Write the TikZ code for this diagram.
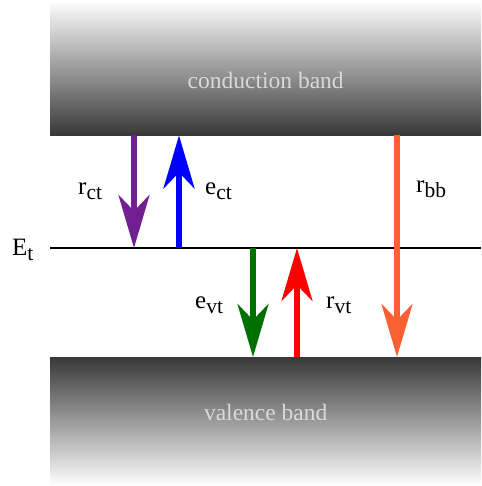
\documentclass[tikz,border=0pt]{standalone}
\usepackage{fontspec}
\setmainfont{Liberation Serif}
\usetikzlibrary{arrows.meta,positioning}

\definecolor{rctcol}{RGB}{112,32,144}
\definecolor{evtcol}{RGB}{0,112,0}
\definecolor{rbbcol}{RGB}{250,96,50}
\newcommand{\ratelbl}[2]{#1\raisebox{-5pt}{\fontsize{21.5}{21.5}\selectfont #2}}

\begin{document}
\begin{tikzpicture}[x=1pt,y=1pt,
  band/.style={inner sep=0,minimum width=431pt,anchor=north west},
  bandtext/.style={text=black!15,font=\fontsize{23.5}{23.5}\selectfont},
  rate/.style={line width=6pt,-{Stealth[length=53pt,width=31pt,inset=16pt]}},
  lbl/.style={inner sep=0,anchor=base west,font=\fontsize{25}{25}\selectfont}]
\useasboundingbox (0,0) rectangle (481,-486);
% bands
\node[band,minimum height=135pt,top color=white,bottom color=black!78] (cb) at (50,0) {};
\node[band,minimum height=129pt,top color=black!78,bottom color=white] (vb) at (50,-357) {};
\node[bandtext] (cbtext) at ([yshift=-13pt]cb.center) {conduction band};
\node[bandtext] (vbtext) at ([yshift=9pt]vb.center) {valence band};
% trap level
\coordinate (lvlL) at (50,-248);
\coordinate (lvlR) at (481,-248);
\draw[line width=1.5pt] (lvlL) -- (lvlR);
\node[lbl] (Et) at (12,-255) {\ratelbl{E}{t}};
% transitions
\draw[rate,rctcol] (cb.south -| 134,0) -- (lvlL -| 134,0);
\draw[rate,blue] (lvlL -| 179,0) -- (cb.south -| 179,0);
\draw[rate,evtcol] (lvlL -| 253,0) -- (vb.north -| 253,0);
\draw[rate,red] (vb.north -| 297,0) -- (lvlL -| 297,0);
\draw[rate,rbbcol] (cb.south -| 397,0) -- (vb.north -| 397,0);
% labels
\node[lbl] (rct) at (78,-194) {\ratelbl{r}{ct}};
\node[lbl] (ect) at (205,-194) {\ratelbl{e}{ct}};
\node[lbl] (evt) at (195,-308) {\ratelbl{e}{vt}};
\node[lbl] (rvt) at (326,-308) {\ratelbl{r}{vt}};
\node[lbl] (rbb) at (416,-193) {\ratelbl{r}{bb}};
\end{tikzpicture}
\end{document}
